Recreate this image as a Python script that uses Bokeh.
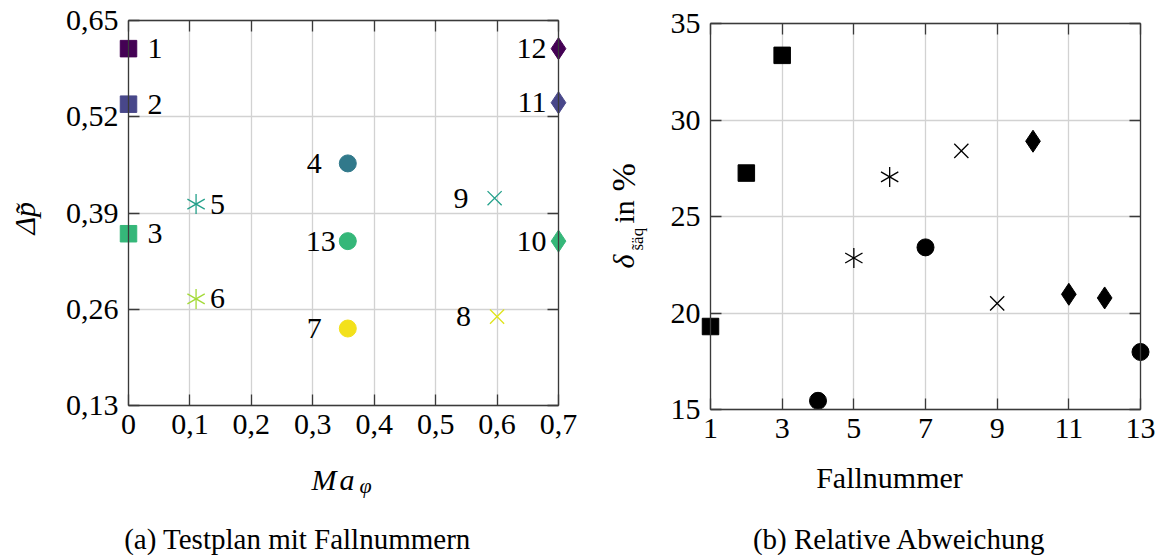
import math
from bokeh.plotting import figure
from bokeh.models import (Range1d, LinearAxis, Grid, FixedTicker, CustomJSTickFormatter,
                          ColumnDataSource, Label)
from bokeh.layouts import row
from bokeh.embed import file_html
from bokeh.resources import INLINE
from bokeh.core.properties import value

# ---------------- data ----------------
case_numbers = [1, 2, 3, 4, 5, 6, 7, 8, 9, 10, 11, 12, 13]
case_labels = [str(c) for c in case_numbers]
ma_phi = [0.0, 0.0, 0.0, 0.357, 0.11, 0.11, 0.357, 0.6, 0.596, 0.7, 0.7, 0.7, 0.357]
delta_p = [0.612, 0.537, 0.362, 0.457, 0.402, 0.274, 0.234, 0.25, 0.41, 0.352, 0.539, 0.612, 0.352]
deviation = [19.3, 27.25, 33.35, 15.45, 22.85, 27.05, 23.4, 28.4, 20.5, 28.9, 20.97, 20.78, 17.98]
marker_kind = ["square", "square", "square", "circle", "asterisk", "asterisk", "circle",
               "x", "x", "diamond", "diamond", "diamond", "circle"]

ma_ticks = [0, 0.1, 0.2, 0.3, 0.4, 0.5, 0.6, 0.7]
ma_tick_labels = ["0", "0,1", "0,2", "0,3", "0,4", "0,5", "0,6", "0,7"]
dp_ticks = [0.13, 0.26, 0.39, 0.52, 0.65]
dp_tick_labels = ["0,13", "0,26", "0,39", "0,52", "0,65"]
case_ticks = [1, 3, 5, 7, 9, 11, 13]
case_tick_labels = ["1", "3", "5", "7", "9", "11", "13"]
dev_ticks = [15, 20, 25, 30, 35]
dev_tick_labels = ["15", "20", "25", "30", "35"]

# ---------------- styles / layout ----------------
case_colors = ["#440154", "#48478a", "#35b779", "#31798b", "#23a08a", "#a3da37", "#f3e11b",
               "#dfe31a", "#23a08a", "#35b779", "#48478a", "#440154", "#35b779"]
label_side = ["r", "r", "r", "l", "r", "r", "l", "l", "l", "l", "l", "l", "l"]
marker_size = {"square": 16.5, "circle": 17, "diamond": 22, "x": 20, "asterisk": 20}
FONT = "Liberation Serif"
AX = "#3a3a3a"
GRID = "#d2d2d2"
H = 555
W1, W2 = 590, 568
X2 = W1  # page x where the second figure starts


def label_offsets():
    xo, al = [], []
    for lab, side, kind in zip(case_labels, label_side, marker_kind):
        if side == "r":
            xo.append(19 if kind == "square" else 14)
            al.append("left")
        else:
            xo.append(-12 if len(lab) == 2 else -26)
            al.append("right")
    return xo, al


def x_range_for(v0, v1, b0, b1, W):
    k = (v1 - v0) / (b1 - b0)
    return Range1d(v0 - b0 * k, v1 + (W - b1) * k)


def y_range_for(v0, v1, top, bottom):
    k = (v1 - v0) / (bottom - top)
    return Range1d(v0 - (H - bottom) * k, v1 + top * k)


def lookup_formatter(ticks, labels):
    return CustomJSTickFormatter(args=dict(t=ticks, l=labels), code="""
        for (let i = 0; i < t.length; i++) { if (Math.abs(t[i] - tick) < 1e-9) return l[i]; }
        return '';""")


def blank_formatter():
    return CustomJSTickFormatter(code="return '';")


def axis_common(ax):
    ax.axis_line_color = AX
    ax.axis_line_width = 1.3
    ax.major_tick_line_color = AX
    ax.major_tick_line_width = 1.3
    ax.minor_tick_line_color = None
    ax.major_label_text_font = FONT
    ax.major_label_text_font_size = "30px"
    ax.major_label_text_color = "black"


def box_axes(p, x0, x1, y0, y1, xt, xl, yt, yl):
    tl = 11
    bottom = LinearAxis(fixed_location=y0, bounds=(x0, x1), ticker=FixedTicker(ticks=xt),
                        formatter=lookup_formatter(xt, xl), major_tick_in=tl, major_tick_out=0,
                        major_label_standoff=9)
    top = LinearAxis(fixed_location=y1, bounds=(x0, x1), ticker=FixedTicker(ticks=xt),
                     formatter=blank_formatter(), major_tick_in=0, major_tick_out=tl,
                     major_label_standoff=0)
    left = LinearAxis(fixed_location=x0, bounds=(y0, y1), ticker=FixedTicker(ticks=yt),
                      formatter=lookup_formatter(yt, yl), major_tick_in=tl, major_tick_out=0,
                      major_label_standoff=10)
    right = LinearAxis(fixed_location=x1, bounds=(y0, y1), ticker=FixedTicker(ticks=yt),
                       formatter=blank_formatter(), major_tick_in=0, major_tick_out=tl,
                       major_label_standoff=0)
    for ax in (bottom, top, left, right):
        axis_common(ax)
    p.add_layout(bottom, "below")
    p.add_layout(top, "below")
    p.add_layout(left, "left")
    p.add_layout(right, "left")

    has_cross = hasattr(Grid, "cross_bounds")
    xg = Grid(dimension=0, ticker=FixedTicker(ticks=xt), bounds=(x0, x1),
              grid_line_color=GRID, grid_line_width=1.3)
    yg = Grid(dimension=1, ticker=FixedTicker(ticks=yt), bounds=(y0, y1),
              grid_line_color=GRID, grid_line_width=1.3)
    if has_cross:
        xg.cross_bounds = (y0, y1)
        yg.cross_bounds = (x0, x1)
        p.add_layout(xg)
        p.add_layout(yg)
    else:
        p.segment(x0=xt, x1=xt, y0=[y0] * len(xt), y1=[y1] * len(xt),
                  line_color=GRID, line_width=1.3, level="underlay")
        p.segment(x0=[x0] * len(yt), x1=[x1] * len(yt), y0=yt, y1=yt,
                  line_color=GRID, line_width=1.3, level="underlay")


def draw_markers(p, xs, ys, colors):
    for kind in ["square", "circle", "diamond", "x", "asterisk"]:
        idx = [i for i, m in enumerate(marker_kind) if m == kind]
        src = ColumnDataSource(dict(x=[xs[i] for i in idx], y=[ys[i] for i in idx],
                                    c=[colors[i] for i in idx]))
        s = marker_size[kind]
        if kind == "asterisk":
            for ang in (math.pi / 2, math.pi / 6, -math.pi / 6):
                p.scatter("x", "y", source=src, marker="dash", angle=ang, size=s,
                          line_color="c", line_width=1.3)
        elif kind == "x":
            p.scatter("x", "y", source=src, marker="x", size=s, line_color="c", line_width=1.3)
        else:
            p.scatter("x", "y", source=src, marker=kind, size=s, fill_color="c",
                      line_color="c", line_width=1)


def make_fig(width, xr, yr):
    return figure(width=width, height=H, x_range=xr, y_range=yr, output_backend="svg",
                  toolbar_location=None, tools="", x_axis_type=None, y_axis_type=None,
                  title=None, min_border=0, min_border_left=0, min_border_right=0,
                  min_border_top=0, min_border_bottom=0, outline_line_color=None,
                  background_fill_color="white", border_fill_color="white")


def add_label(p, fig_left, X, Y, text, size="30px", style="normal", align="left",
              angle=0.0):
    # (X, Y): page position of the text's start (or centre) on its middle line
    p.add_layout(Label(x=X - fig_left, y=H - Y, x_units="screen", y_units="screen", text=text,
                       text_font=FONT, text_font_size=size, text_font_style=style,
                       text_align=align, text_baseline="middle", angle=angle,
                       text_color="black"))


# ---------------- left plot: test plan ----------------
p1 = make_fig(W1, x_range_for(0.0, 0.7, 128, 558, W1), y_range_for(0.13, 0.65, 20, 405))
box_axes(p1, 0.0, 0.7, 0.13, 0.65, ma_ticks, ma_tick_labels, dp_ticks, dp_tick_labels)
draw_markers(p1, ma_phi, delta_p, case_colors)
xo, al = label_offsets()
lsrc = ColumnDataSource(dict(x=ma_phi, y=delta_p, t=case_labels, xo=xo, a=al))
p1.text("x", "y", text="t", source=lsrc, x_offset="xo", text_align="a",
        text_baseline="middle", text_font=value(FONT), text_font_size=value("30px"),
        text_color="black")
add_label(p1, 0, 311, 479, "M", style="italic")
add_label(p1, 0, 339, 479, "a", style="italic")
add_label(p1, 0, 359, 485, "\u03c6", size="22px", style="italic")
add_label(p1, 0, 24, 234, "\u0394p\u0303", style="italic", angle=math.pi / 2)
add_label(p1, 0, 297, 538, "(a) Testplan mit Fallnummern", size="29px", align="center")

# ---------------- right plot: relative deviation ----------------
p2 = make_fig(W2, x_range_for(1, 13, 710 - X2, 1140 - X2, W2), y_range_for(15, 35, 23, 409))
box_axes(p2, 1, 13, 15, 35, case_ticks, case_tick_labels, dev_ticks, dev_tick_labels)
draw_markers(p2, case_numbers, deviation, ["black"] * len(case_numbers))
add_label(p2, X2, 889, 477, "Fallnummer", align="center")
add_label(p2, X2, 623, 268, "\u03b4", style="italic", angle=math.pi / 2)
add_label(p2, X2, 637, 250, "s\u0303\u00e4q", size="17px", angle=math.pi / 2)
add_label(p2, X2, 623, 223, "in", angle=math.pi / 2)
add_label(p2, X2, 623, 191, "%", size="34px", angle=math.pi / 2)
add_label(p2, X2, 899, 538, "(b) Relative Abweichung", size="29px", align="center")

layout = row(p1, p2)
open("out.html", "w").write(file_html(layout, INLINE))
